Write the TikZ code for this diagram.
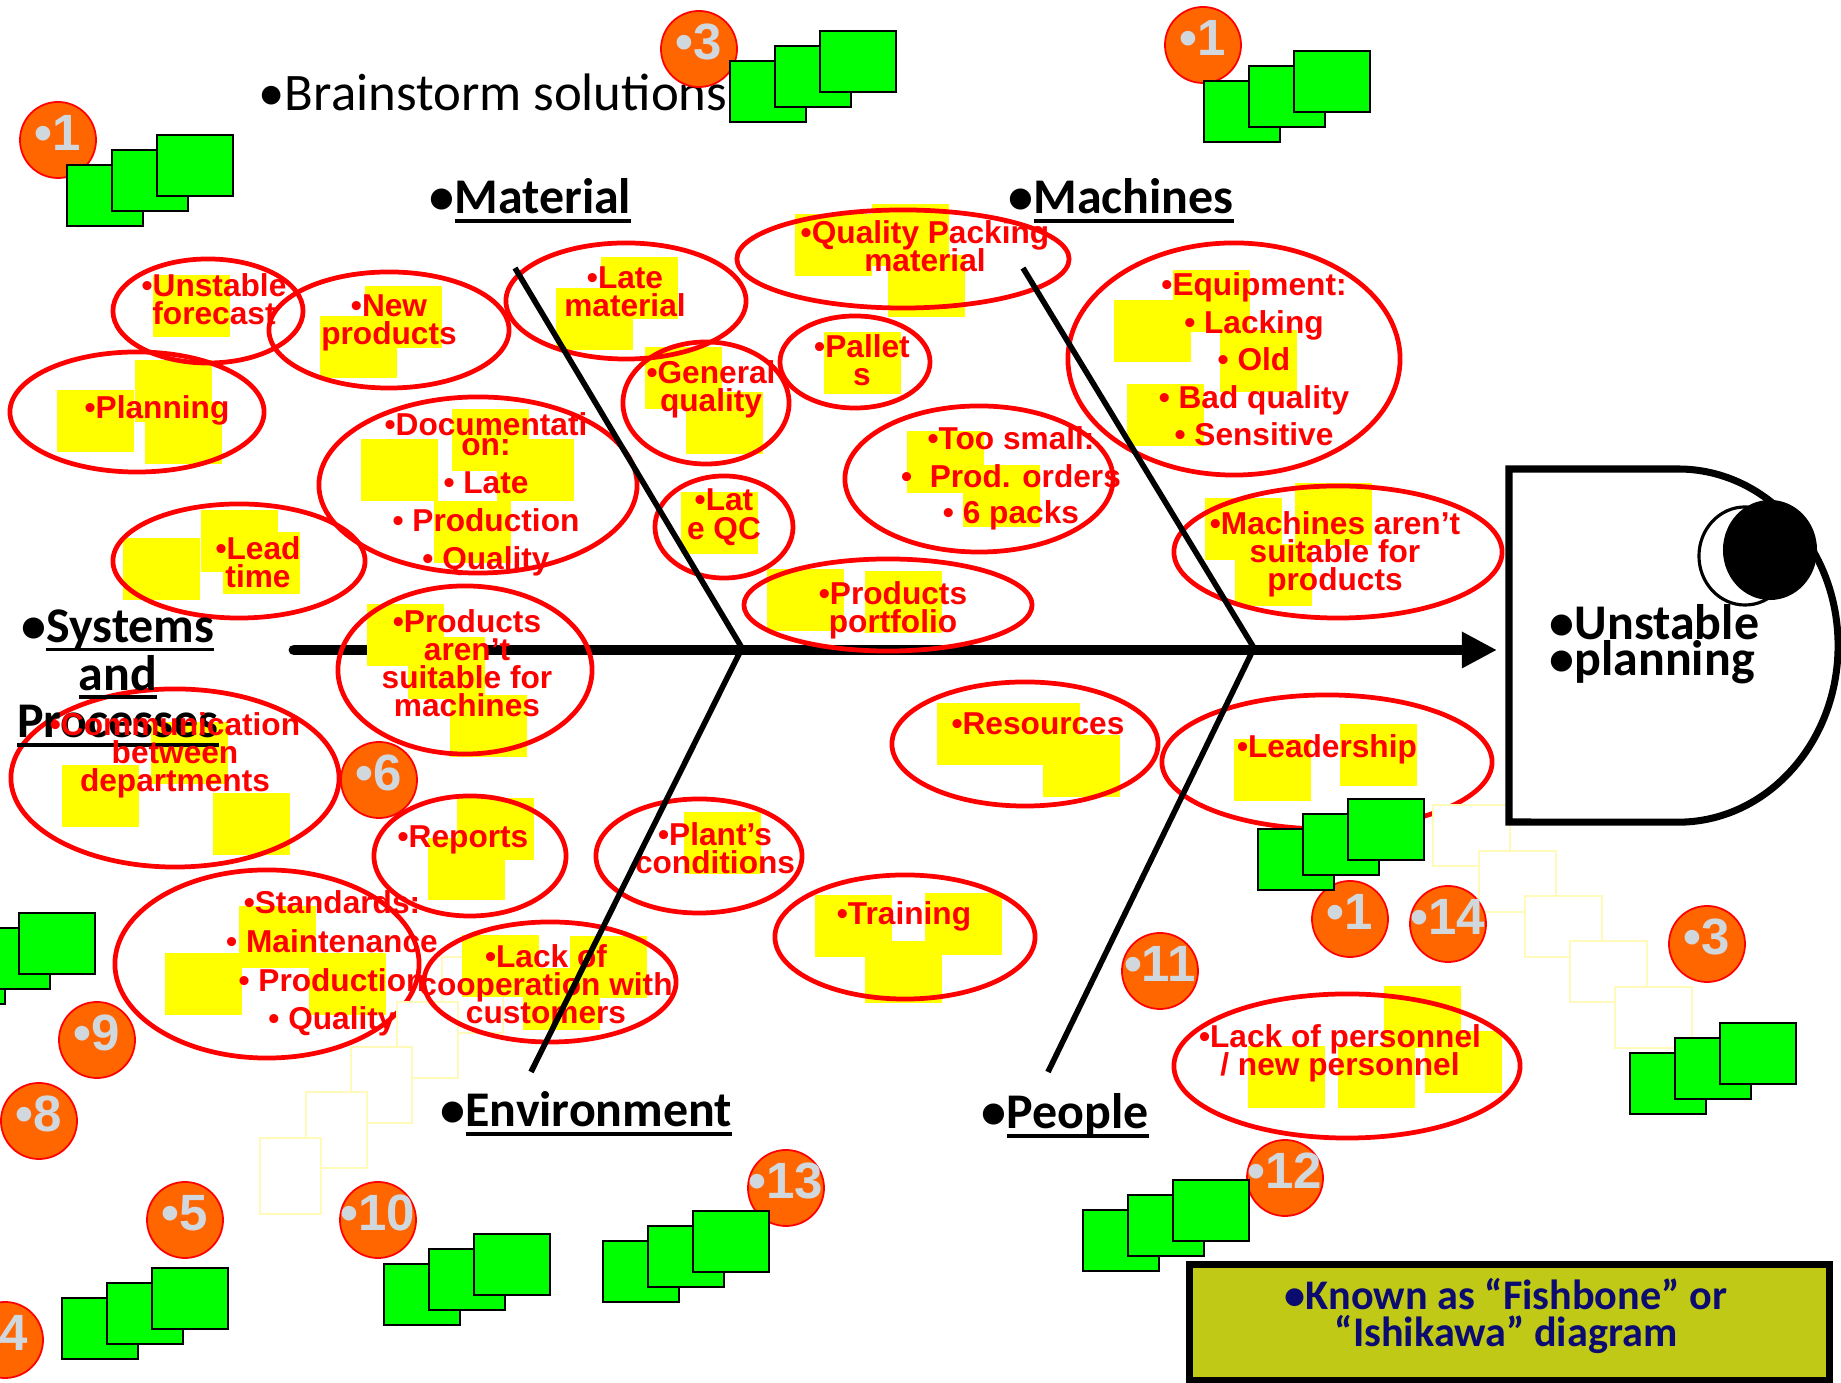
\documentclass[tikz,border=0pt]{standalone}
\usepackage{fontspec}
\setmainfont{Carlito}
\newfontfamily\arialf{Liberation Sans}
\usetikzlibrary{arrows.meta,shapes.geometric}

\definecolor{notey}{RGB}{255,255,0}
\definecolor{voteg}{RGB}{0,255,0}
\definecolor{badgeo}{RGB}{255,102,0}
\definecolor{badgetx}{RGB}{208,216,222}
\definecolor{palel}{RGB}{255,250,185}
\definecolor{kbg}{RGB}{192,202,22}
\definecolor{knavy}{RGB}{12,12,112}

\lineskiplimit=-100pt
\newcommand\hdul[1]{\setbox0\hbox{#1}\rlap{\rule[-2.6pt]{\wd0}{1.1pt}}\box0}

\begin{document}
\begin{tikzpicture}[x=0.01cm, y=-0.01cm,
    hdg/.style={font=\bfseries\fontsize{14.2}{13.6}\selectfont, inner sep=0pt, anchor=base west},
    cause/.style={text=red, font=\arialf\bfseries\fontsize{9}{8}\selectfont, align=center, inner sep=0pt, anchor=base},
    oval/.style 2 args={ellipse, draw=red, line width=1.35pt, minimum width=#1, minimum height=#2, inner sep=0pt},
    note/.style={fill=notey, anchor=north west, minimum width=0.77cm, minimum height=0.62cm, inner sep=0pt, outer sep=0pt},
    vote/.style={fill=voteg, draw=black, line width=0.6pt, anchor=north west, minimum width=0.76cm, minimum height=0.61cm, inner sep=0pt},
    ghost/.style={fill=white, draw=palel, line width=0.6pt, anchor=north west, inner sep=0pt},
    badge/.style={circle, fill=badgeo, draw=red, line width=0.5pt, minimum size=0.76cm, inner sep=0pt},
    badgenum/.style={text=badgetx, font=\arialf\bfseries\fontsize{14.5}{14}\selectfont, inner sep=0pt},
    bone/.style={line width=1.6pt},
    spine/.style={line width=3.1pt, line cap=round, -{Triangle[length=3.5mm,width=3.4mm]}},
]
\useasboundingbox (0,0) rectangle (1841,1383);

% spine
\coordinate (tail) at (294,650);
\coordinate (tip) at (1497,650);
\draw[spine] (tail) -- (tip);

% ovals that sit under the pale notes
\node[oval={3.04cm}{1.88cm}] (oStandards) at (267,964) {};
\node[oval={3.30cm}{1.34cm}] (oLeadership) at (1327,762) {};

% pale (empty) notes
\foreach \x/\y [count=\i] in {441/956, 396/1001, 350/1046, 305/1091, 259/1137}
  \node[ghost, minimum width=0.61cm, minimum height=0.76cm] (ghostL\i) at (\x,\y) {};
\foreach \x/\y [count=\i] in {1432/804, 1478/850, 1524/895, 1569/940, 1614/986}
  \node[ghost, minimum width=0.77cm, minimum height=0.61cm] (ghostR\i) at (\x,\y) {};

% yellow notes
\foreach \x/\y [count=\i] in {153/275, 365/286, 320/316, 57/390, 135/360, 145/402,
    601/257, 556/288, 795/214, 872/204, 888/255, 645/347, 686/392, 824/332,
    452/409, 361/439, 497/439, 434/501, 681/492, 123/538, 201/510, 223/532,
    367/604, 408/637, 450/695, 62/765, 151/722, 213/793, 767/569, 865/571,
    907/431, 963/465, 1114/300, 1173/270, 1220/330, 1127/384,
    1205/498, 1295/483, 1235/544, 937/703, 1003/703, 1043/735,
    1234/739, 1340/724, 457/798, 428/838, 684/812,
    815/895, 925/893, 865/941, 239/906, 165/953, 309/953,
    462/935, 570/936, 523/968, 1384/986, 1248/1046, 1338/1046, 1425/1031}
  \node[note] (note\i) at (\x,\y) {};

% ovals
\node[oval={1.90cm}{1.04cm}] (oForecast) at (208,311) {};
\node[oval={2.40cm}{1.16cm}] (oNewProd) at (389,330) {};
\node[oval={2.54cm}{1.20cm}] (oPlanning) at (137,412) {};
\node[oval={2.40cm}{1.16cm}] (oLateMat) at (626,301) {};
\node[oval={3.32cm}{0.98cm}] (oPacking) at (903,259) {};
\node[oval={1.66cm}{1.22cm}] (oGeneral) at (706,403) {};
\node[oval={1.50cm}{0.92cm}] (oPallets) at (855,362) {};
\node[oval={3.18cm}{1.76cm}] (oDocs) at (478,485) {};
\node[oval={2.68cm}{1.46cm}] (oTooSmall) at (979,479) {};
\node[oval={1.38cm}{1.02cm}] (oLateQC) at (724,527) {};
\node[oval={3.32cm}{2.32cm}] (oEquip) at (1234,359) {};
\node[oval={2.52cm}{1.14cm}] (oLeadTime) at (239,561) {};
\node[oval={2.88cm}{0.92cm}] (oPortfolio) at (888,605) {};
\node[oval={3.28cm}{1.32cm}] (oMachFit) at (1338,552) {};
\node[oval={2.54cm}{1.68cm}] (oProdFit) at (465,670) {};
\node[oval={3.28cm}{1.78cm}] (oComm) at (175,778) {};
\node[oval={2.66cm}{1.24cm}] (oResources) at (1025,744) {};
\node[oval={1.92cm}{1.20cm}] (oReports) at (470,856) {};
\node[oval={2.06cm}{1.14cm}] (oPlant) at (699,856) {};
\node[oval={2.60cm}{1.24cm}] (oTraining) at (905,937) {};
\node[oval={2.52cm}{1.20cm}] (oCoop) at (550,982) {};
\node[oval={3.46cm}{1.44cm}] (oPersonnel) at (1347,1066) {};

% headings
\node[hdg, font=\fontsize{15}{15}\selectfont] (brain) at (258,111) {•Brainstorm solutions};
\node[hdg] (material) at (429,214) {•\hdul{Material}};
\node[hdg] (machines) at (1008,214) {•\hdul{Machines}};
\node[hdg, anchor=base, align=center] (systems) at (118,738) {•\hdul{Systems}\\\hdul{and}\\\hdul{Processes}};
\node[hdg] (environment) at (440,1127) {•\hdul{Environment}};
\node[hdg] (people) at (981,1129) {•\hdul{People}};

% causes (anchored at the base line of the last line)
\node[cause] (tForecast) at (214,325) {•Unstable\\forecast};
\node[cause] (tNewProd) at (389,345) {•New\\products};
\node[cause] (tPlanning) at (157,419) {•Planning};
\node[cause] (tLateMat) at (625,317) {•Late\\material};
\node[cause] (tPacking) at (925,272) {•Quality Packing\\material};
\node[cause] (tGeneral) at (711,412) {•General\\quality};
\node[cause] (tPallets) at (862,386) {•Pallet\\s};
\node[cause] (tDocs) at (486,570) {•Documentati\\[-2.3pt]on:\\[2.85pt]• Late\\[2.85pt]• Production\\[2.85pt]• Quality};
\node[cause] (tTooSmall) at (1011,524) {•Too small:\\[2.7pt]•\ \ Prod. orders\\[2.5pt]• 6 packs};
\node[cause] (tLateQC) at (724,540) {•Lat\\[0.5pt]e QC};
\node[cause] (tEquip) at (1254,446) {•Equipment:\\[2.7pt]• Lacking\\[2.7pt]• Old\\[2.7pt]• Bad quality\\[2.7pt]• Sensitive};
\node[cause] (tLeadTime) at (258,588) {•Lead\\time};
\node[cause] (tPortfolio) at (893,633) {•Products\\portfolio};
\node[cause] (tMachFit) at (1335,591) {•Machines aren’t\\suitable for\\products};
\node[cause] (tProdFit) at (467,717) {•Products\\aren’t\\suitable for\\machines};
\node[cause] (tComm) at (175,792) {•Communication\\between\\departments};
\node[cause] (tResources) at (1038,735) {•Resources};
\node[cause] (tLeadership) at (1327,758) {•Leadership};
\node[cause] (tReports) at (463,848) {•Reports};
\node[cause] (tPlant) at (715,874) {•Plant’s\\conditions};
\node[cause] (tTraining) at (904,925) {•Training};
\node[cause] (tStandards) at (332,1030) {•Standards:\\[3pt]• Maintenance\\[3pt]• Production\\[3pt]• Quality};
\node[cause] (tCoop) at (546,1024) {•Lack of\\cooperation with\\customers};
\node[cause] (tPersonnel) at (1340,1076) {•Lack of personnel\\/ new personnel};

% fish head
\draw[line width=2pt, fill=white] (1509,469) -- (1678,469)
  arc[start angle=90, end angle=-90, x radius=1.6cm, y radius=1.765cm] -- (1509,822) -- cycle;
\node[ellipse, draw, line width=0.9pt, fill=white, minimum width=0.92cm, minimum height=0.98cm, inner sep=0pt] (eyeRing) at (1745,556) {};
\node[ellipse, fill=black, minimum width=0.94cm, minimum height=1.0cm, inner sep=0pt] (eye) at (1770,550) {};
\node[hdg, font=\bfseries\fontsize{14.2}{10.5}\selectfont, align=left] (effect) at (1549,676) {•Unstable\\•planning};

% bones
\coordinate (matTop) at (515,268);
\coordinate (jMat) at (742,648);
\coordinate (envEnd) at (531,1072);
\coordinate (macTop) at (1023,268);
\coordinate (jMac) at (1254,648);
\coordinate (pplEnd) at (1048,1072);
\draw[bone] (matTop) -- (jMat) -- (envEnd);
\draw[bone] (macTop) -- (jMac) -- (pplEnd);

% vote counts
\foreach \x/\y/\n [count=\i] in {58/140/1, 699/49/3, 1203/45/1, 379/780/6, 97/1040/9,
    39/1121/8, 185/1220/5, 378/1220/10, 5/1340/4, 786/1188/13, 1160/971/11,
    1285/1178/12, 1350/919/1, 1448/924/14, 1707/944/3} {
  \node[badge] (badge\i) at (\x,\y) {};
  \node[badgenum] (num\i) at ([yshift=0.07cm]badge\i.center) {•\n};
}

% green votes
\foreach \x/\y [count=\g] in {66/164, 729/60, 1203/80, -72/942, 61/1297,
    383/1263, 602/1240, 1082/1209, 1257/828, 1629/1052} {
  \foreach \k in {0,1,2}
    \node[vote] (vote\g-\k) at ({\x+45*\k},{\y-15*\k}) {};
}

% note box
\node[draw, line width=2pt, fill=kbg, anchor=north west, minimum width=6.40cm, minimum height=1.16cm, inner sep=0pt] (known) at (1186,1261) {};
\node[font=\bfseries\fontsize{12}{10.8}\selectfont, text=knavy, align=center, anchor=base, inner sep=0pt] (knownTxt) at (1506,1347) {•Known as “Fishbone” or\\“Ishikawa” diagram};
\end{tikzpicture}
\end{document}
